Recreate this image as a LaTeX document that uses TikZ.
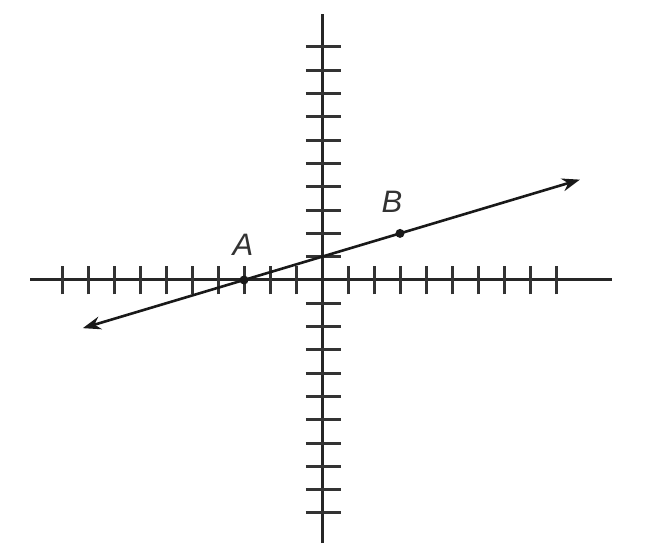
\documentclass[tikz,border=0pt]{standalone}
\usepackage{fontspec}
\setmainfont{Liberation Sans}
\usetikzlibrary{arrows.meta}
\begin{document}
\begin{tikzpicture}[x=26pt,y=23.3pt,
  axis/.style={line width=3pt,color=black!85},
  tick/.style={line width=3pt,color=black!80},
  graphline/.style={line width=2.6pt,color=black!90,{Stealth[length=18pt,width=13pt]}-{Stealth[length=18pt,width=13pt]}},
  pt/.style={circle,fill=black!90,inner sep=0pt,minimum size=9pt},
  lbl/.style={font=\fontsize{31}{31}\selectfont\itshape,text=black!80,inner sep=0pt}]
\useasboundingbox[fill=white] (-12.385,-11.888) rectangle (12.923,12.017);
% axes
\coordinate (xl) at (-11.23,0);
\coordinate (xr) at (11.15,0);
\coordinate (yt) at (0,11.42);
\coordinate (yb) at (0,-11.29);
\draw[axis] (xl) -- (xr);
\draw[axis] (yb) -- (yt);
% ticks
\foreach \i in {-10,...,-1,1,2,...,9}
  \draw[tick] (\i,-0.62) -- (\i,0.62);
\foreach \j in {-10,...,-1,1,2,...,10}
  \draw[tick] (-0.62,\j) -- (0.72,\j);
% line through A and B
\coordinate (L) at (-9.2,-2.067);
\coordinate (R) at (9.92,4.307);
\draw[graphline] (L) -- (R);
\node[pt] (A) at (-3,0) {};
\node[pt] (B) at (3,2) {};
\node[lbl] (Alab) at (-3.04,1.5) {A};
\node[lbl] (Blab) at (2.69,3.35) {B};
\end{tikzpicture}
\end{document}
